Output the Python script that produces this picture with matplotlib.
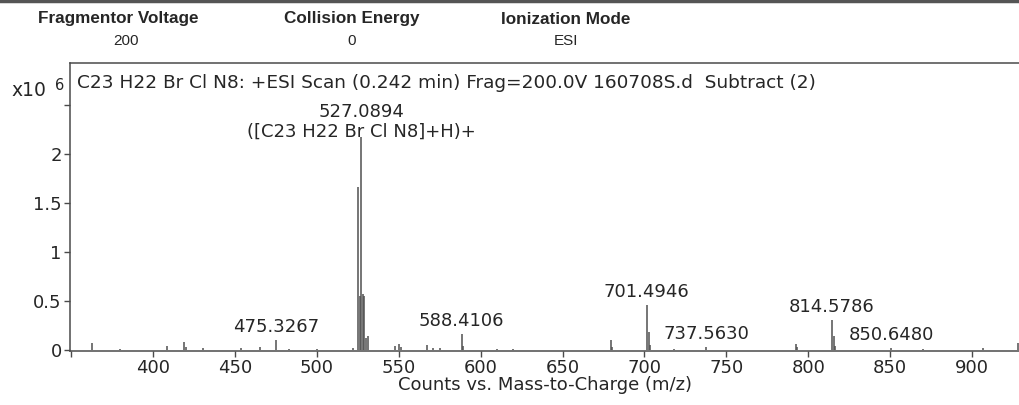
import matplotlib
matplotlib.use("Agg")
import matplotlib.pyplot as plt
from matplotlib.lines import Line2D

# Centroided peaks of the subtracted +ESI scan (intensity in units of 1e6 counts)
peak_mz = [362.7, 380.0, 408.6, 419.0, 420.2, 430.4, 453.8, 465.0, 475.3267,
           483.0, 500.0, 522.0, 525.09, 526.09, 527.0894, 528.09, 529.09,
           530.09, 531.1, 547.5, 550.4, 551.2, 567.5, 571.0, 575.0, 588.4106,
           589.4, 610.0, 620.0, 679.5, 680.5, 701.4946, 702.5, 703.5, 718.0,
           737.5630, 792.4, 793.4, 814.5786, 815.6, 816.6, 850.6480, 870.0,
           907.0, 928.0]
peak_int = [0.07, 0.01, 0.04, 0.08, 0.03, 0.02, 0.02, 0.03, 0.10,
            0.01, 0.01, 0.02, 1.66, 0.55, 2.17, 0.57, 0.55,
            0.12, 0.14, 0.04, 0.06, 0.03, 0.05, 0.02, 0.02, 0.16,
            0.04, 0.01, 0.01, 0.10, 0.03, 0.46, 0.18, 0.05, 0.01,
            0.03, 0.06, 0.03, 0.31, 0.14, 0.04, 0.02, 0.01,
            0.02, 0.07]

# Annotated peaks
label_mz = [475.3267, 527.0894, 588.4106, 701.4946, 737.5630, 814.5786, 850.6480]
label_extra = {527.0894: "([C23 H22 Br Cl N8]+H)+"}

x_ticks = [350, 400, 450, 500, 550, 600, 650, 700, 750, 800, 850, 900]
x_ticklabels = ["", "400", "450", "500", "550", "600", "650", "700", "750",
                "800", "850", "900"]
y_ticks = [0, 0.5, 1, 1.5, 2, 2.5]
y_ticklabels = ["0", "0.5", "1", "1.5", "2", ""]

title = "C23 H22 Br Cl N8: +ESI Scan (0.242 min) Frag=200.0V 160708S.d  Subtract (2)"
header_names = ["Fragmentor Voltage", "Collision Energy", "Ionization Mode"]
header_values = ["200", "0", "ESI"]

W, H = 1020, 405
fig = plt.figure(figsize=(W / 100, H / 100), dpi=100)
fig.patch.set_facecolor("white")

TXT = "#262626"
AX = "#4a4a4a"
FONT = "DejaVu Sans"
FS = 13

ax = fig.add_axes([70 / W, 1 - 351 / H, 1 - 70 / W, (351 - 63) / H])
ax.vlines(peak_mz, 0, peak_int, color="#505050", lw=1.1)
ax.set_xlim(349.3, 929.3)
ax.set_ylim(-0.01, 2.93)

ax.spines["right"].set_visible(False)
for side in ["left", "bottom", "top"]:
    ax.spines[side].set_color(AX)
    ax.spines[side].set_linewidth(1.1)

ax.set_xticks(x_ticks)
ax.set_xticklabels(x_ticklabels)
ax.set_yticks(y_ticks)
ax.set_yticklabels(y_ticklabels)
ax.tick_params(axis="both", direction="out", length=4, width=1, color=AX,
               labelcolor=TXT, labelsize=FS, pad=2)
for lab in ax.get_xticklabels() + ax.get_yticklabels():
    lab.set_family(FONT)

ax.set_xlabel("Counts vs. Mass-to-Charge (m/z)", fontsize=FS, family=FONT,
              color=TXT, labelpad=-1)

ax.text(7 / (W - 70), 1 - (83 - 63) / (351 - 63), title, transform=ax.transAxes,
        fontsize=13.3, family=FONT, color=TXT, va="center", ha="left")

# Peak annotations
for mz in label_mz:
    h = peak_int[peak_mz.index(mz)]
    txt = f"{mz:.4f}"
    off = 4
    if mz in label_extra:
        txt = txt + "\n" + label_extra[mz]
        off = -3
    ax.annotate(txt, xy=(mz, h), xytext=(0, off), textcoords="offset pixels",
                ha="center", va="bottom", fontsize=FS, family=FONT, color=TXT,
                linespacing=1.12, annotation_clip=False)

# Exponent marker
fig.text(11 / W, 1 - 90 / H, "x10", fontsize=13.5, family=FONT, color=TXT,
         ha="left", va="center")
fig.text(55 / W, 1 - 86 / H, "6", fontsize=10.5, family=FONT, color=TXT,
         ha="left", va="center")

# Acquisition header
header_x = [118, 352, 566]
value_x = [126, 352, 566]
for x, vx, name, val in zip(header_x, value_x, header_names, header_values):
    fig.text(x / W, 1 - 19 / H, name, fontsize=12.3, family="Liberation Sans",
             weight="bold", color=TXT, ha="center", va="center")
    fig.text(vx / W, 1 - 41 / H, val, fontsize=11, family="Liberation Sans",
             color=TXT, ha="center", va="center")

# Top border of the report frame
fig.add_artist(Line2D([0, 1], [1 - 1 / H, 1 - 1 / H], transform=fig.transFigure,
                      color="#555555", lw=2.5))

fig.savefig("out.png", dpi=100, facecolor="white")
